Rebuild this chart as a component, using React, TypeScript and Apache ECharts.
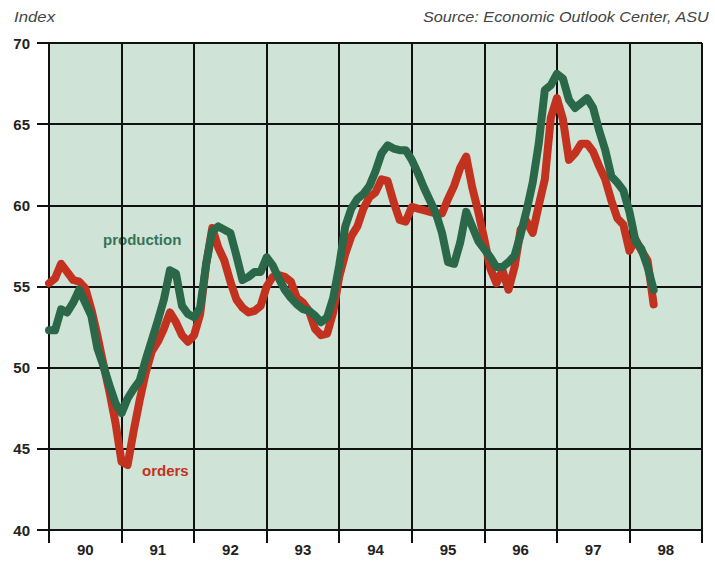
import React, { useEffect, useRef } from "react";
import * as echarts from "echarts";

// Monthly index values, Jan 1990 .. May 1998
const production: number[] = [
  52.3, 52.3, 53.6, 53.4, 54.0, 54.8, 54.0, 53.2, 51.2, 50.1, 48.9, 47.8,
  47.2, 48.1, 48.7, 49.2, 50.5, 51.7, 52.9, 54.2, 56.0, 55.8, 53.8, 53.3,
  53.1, 53.7, 56.4, 58.4, 58.7, 58.5, 58.3, 56.9, 55.4, 55.6, 55.9, 55.9,
  56.8, 56.3, 55.5, 54.8, 54.3, 53.9, 53.6, 53.5, 53.2, 52.8, 53.1, 54.3,
  56.3, 58.7, 59.8, 60.4, 60.7, 61.2, 62.1, 63.2, 63.7, 63.5, 63.4, 63.4,
  62.8, 62.0, 61.1, 60.3, 59.5, 58.3, 56.5, 56.4, 57.7, 59.6, 58.7, 57.8,
  57.3, 56.8, 56.2, 56.2, 56.5, 56.9, 58.2, 59.7, 61.4, 63.8, 67.1, 67.4,
  68.1, 67.8, 66.5, 66.0, 66.3, 66.6, 66.0, 64.6, 63.4, 61.8, 61.4, 60.9,
  59.6, 57.8, 57.3, 56.2, 54.8,
];
const orders: number[] = [
  55.2, 55.5, 56.4, 55.9, 55.4, 55.3, 54.9, 53.6, 52.0, 50.2, 48.5, 46.6,
  44.2, 44.0, 46.1, 48.0, 49.7, 51.0, 51.6, 52.4, 53.4, 52.8, 52.0, 51.6,
  52.0, 53.3, 56.4, 58.6, 57.4, 56.6, 55.3, 54.2, 53.7, 53.4, 53.5, 53.8,
  55.0, 55.6, 55.7, 55.6, 55.3, 54.3, 54.0, 53.5, 52.4, 52.0, 52.1, 53.4,
  55.6, 57.0, 58.1, 58.7, 59.8, 60.5, 60.8, 61.6, 61.5, 60.2, 59.1, 59.0,
  59.9, 59.8, 59.7, 59.6, 59.5, 59.5, 60.4, 61.2, 62.3, 63.0, 61.1, 59.6,
  57.9, 56.1, 55.2, 56.0, 54.8, 56.2, 58.5, 59.0, 58.3, 60.0, 61.6, 65.4,
  66.6, 65.3, 62.8, 63.2, 63.8, 63.8, 63.3, 62.4, 61.6, 60.3, 59.2, 58.8,
  57.2, 57.9, 57.2, 56.6, 53.9,
];
const yearLabels: string[] = ["90", "91", "92", "93", "94", "95", "96", "97", "98"];

const FONT = "'Liberation Sans', Arial, Helvetica, sans-serif";

export default function App() {
  const ref = useRef<HTMLDivElement>(null);
  useEffect(() => {
    if (!ref.current) return;
    const chart = echarts.init(ref.current, undefined, { renderer: "svg" });
    const toPairs = (arr: number[]) => arr.map((v, i) => [i, v]);
    chart.setOption({
      animation: false,
      backgroundColor: "#ffffff",
      grid: {
        left: 49,
        right: 13,
        top: 43,
        bottom: 31,
        show: true,
        backgroundColor: "#cfe3d7",
        borderWidth: 0,
      },
      graphic: [
        {
          type: "text",
          left: 14,
          top: 9,
          scaleX: 1.12,
          style: {
            text: "Index",
            font: `italic 15px ${FONT}`,
            fill: "#444",
          },
        },
        {
          type: "text",
          x: 423,
          y: 9,
          scaleX: 1.08,
          style: {
            text: "Source: Economic Outlook Center, ASU",
            font: `italic 15px ${FONT}`,
            fill: "#444",
          },
        },
        {
          type: "text",
          x: 103,
          y: 232,
          style: {
            text: "production",
            font: `bold 15px ${FONT}`,
            fill: "#357457",
          },
        },
        {
          type: "text",
          x: 142,
          y: 463,
          style: {
            text: "orders",
            font: `bold 15px ${FONT}`,
            fill: "#c2321e",
          },
        },
      ],
      xAxis: [
        {
          type: "value",
          min: 0,
          max: 108,
          interval: 12,
          axisLine: { show: true, lineStyle: { color: "#111", width: 2 } },
          axisTick: { show: true, length: 13, lineStyle: { color: "#111", width: 2 } },
          axisLabel: { show: false },
          splitLine: { show: true, lineStyle: { color: "#111", width: 2 } },
        },
        {
          type: "category",
          data: yearLabels,
          position: "bottom",
          boundaryGap: true,
          axisLine: { show: false },
          axisTick: { show: false },
          splitLine: { show: false },
          axisLabel: {
            margin: 12,
            color: "#222",
            fontFamily: FONT,
            fontWeight: "bold",
            fontSize: 15,
          },
        },
      ],
      yAxis: {
        type: "value",
        min: 40,
        max: 70,
        interval: 5,
        axisLine: { show: true, lineStyle: { color: "#111", width: 2 } },
        axisTick: { show: true, length: 12, lineStyle: { color: "#111", width: 2 } },
        axisLabel: {
          margin: 19,
          color: "#222",
          fontFamily: FONT,
          fontWeight: "bold",
          fontSize: 15,
        },
        splitLine: { show: true, lineStyle: { color: "#111", width: 2 } },
      },
      series: [
        {
          name: "orders",
          type: "line",
          xAxisIndex: 0,
          data: toPairs(orders),
          showSymbol: false,
          lineStyle: { color: "#c2321e", width: 8, join: "round", cap: "round" },
          z: 3,
        },
        {
          name: "production",
          type: "line",
          xAxisIndex: 0,
          data: toPairs(production),
          showSymbol: false,
          lineStyle: { color: "#2a6849", width: 8, join: "round", cap: "round" },
          z: 4,
        },
      ],
    });
    return () => chart.dispose();
  }, []);
  return <div ref={ref} style={{ width: 715, height: 561, position: "absolute", left: 0, top: 0 }} />;
}
